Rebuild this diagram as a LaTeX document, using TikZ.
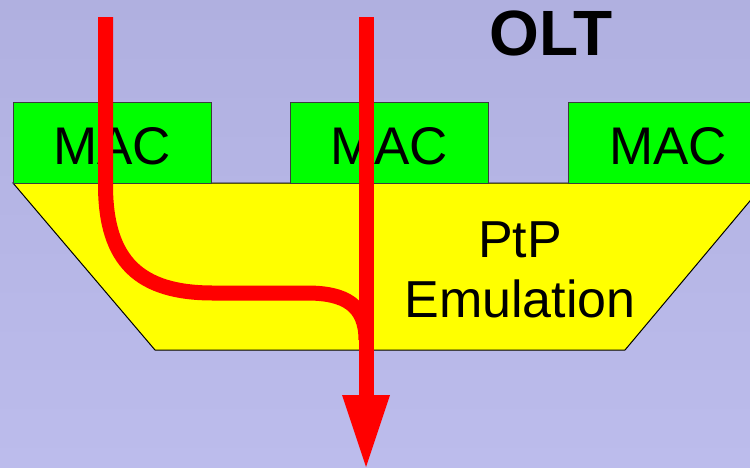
\documentclass[tikz,border=0pt]{standalone}
\usepackage{fontspec}
\setmainfont{Liberation Sans}
\definecolor{bgtop}{RGB}{176,176,224}
\definecolor{bgbot}{RGB}{188,188,236}
\definecolor{macgreen}{RGB}{0,255,0}
\definecolor{ptpyellow}{RGB}{255,255,0}
\definecolor{flowred}{RGB}{255,0,0}
\definecolor{edgegray}{RGB}{60,60,60}
\tikzset{
  macbox/.style={draw=edgegray, line width=1pt, fill=macgreen},
  mactext/.style={font=\fontsize{53}{60}\selectfont, inner sep=0pt, anchor=base},
  flow/.style={draw=flowred, line width=15pt},
  flowtip/.style={fill=flowred, draw=none},
}
\begin{document}
\begin{tikzpicture}[x=1pt,y=-1pt]
\useasboundingbox (0,0) rectangle (750,467);
\shade[top color=bgtop, bottom color=bgbot] (0,0) rectangle (750,467);
% trapezoid
\filldraw[fill=ptpyellow, draw=black, line width=1pt] (13,183) -- (765,183) -- (625,350) -- (155,350) -- cycle;
% MAC boxes
\draw[macbox] (13,102) rectangle (211,183);
\draw[macbox] (290,102) rectangle (488,183);
\draw[macbox] (568,102) rectangle (766,183);
\node[mactext] (mac1) at (112,164) {MAC};
\node[mactext] (mac2) at (389,164) {MAC};
\node[mactext] (mac3) at (668,164) {MAC};
\node[font=\fontsize{52}{60}\selectfont, inner sep=0pt, anchor=base, align=center] (ptp) at (520,317) {PtP\\Emulation};
\node[font=\fontsize{64}{70}\selectfont\bfseries, inner sep=0pt, anchor=base] (olt) at (551,55) {OLT};
% flows
\coordinate (s1) at (105.5,17);
\coordinate (s2) at (366,17);
\coordinate (tipbase) at (366,395);
\coordinate (tip) at (366,467);
\draw[flow] (s1) -- (105.5,185) .. controls (105.5,262) and (140,293) .. (213,293) -- (307,293) .. controls (345,293) and (366,305) .. (366,340);
\draw[flow] (s2) -- (tipbase);
\fill[flowtip] ([xshift=-24pt]tipbase) -- ([xshift=24pt]tipbase) -- (tip) -- cycle;
\end{tikzpicture}
\end{document}
